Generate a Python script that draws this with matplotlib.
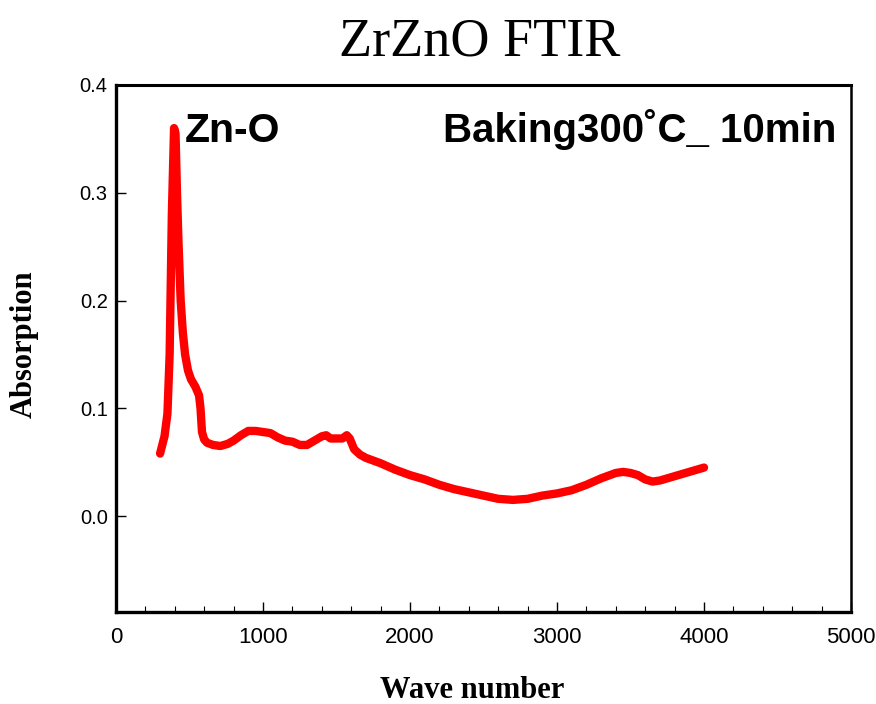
import matplotlib.pyplot as plt
from matplotlib.ticker import MultipleLocator

# FTIR spectrum
wave_number = [300, 330, 350, 365, 380, 395, 405, 415, 425, 440, 455, 470, 490, 510,
               540, 565, 575, 585, 600, 620, 660, 710, 760, 800, 850, 900, 950, 1000,
               1050, 1100, 1150, 1200, 1250, 1300, 1350, 1400, 1430, 1460, 1500, 1540,
               1570, 1590, 1620, 1660, 1700, 1800, 1900, 2000, 2100, 2200, 2300, 2400,
               2500, 2600, 2700, 2800, 2900, 3000, 3100, 3200, 3300, 3400, 3450, 3500,
               3550, 3600, 3650, 3700, 3800, 3900, 4000]
absorption = [0.058, 0.074, 0.095, 0.150, 0.280, 0.360, 0.355, 0.300, 0.255, 0.200,
              0.170, 0.150, 0.135, 0.127, 0.120, 0.112, 0.100, 0.078, 0.071, 0.068,
              0.066, 0.065, 0.067, 0.070, 0.075, 0.079, 0.079, 0.078, 0.077, 0.073,
              0.070, 0.069, 0.066, 0.066, 0.070, 0.074, 0.075, 0.072, 0.072, 0.072,
              0.075, 0.072, 0.062, 0.057, 0.054, 0.049, 0.043, 0.038, 0.034, 0.029,
              0.025, 0.022, 0.019, 0.016, 0.015, 0.016, 0.019, 0.021, 0.024, 0.029,
              0.035, 0.040, 0.041, 0.040, 0.038, 0.034, 0.032, 0.033, 0.037, 0.041,
              0.045]

x_ticks = [0, 1000, 2000, 3000, 4000, 5000]
y_ticks = [0.0, 0.1, 0.2, 0.3, 0.4]

fig = plt.figure(figsize=(8.76, 7.04), dpi=100)
ax = fig.add_axes([0.1324, 0.1307, 0.8391, 0.7486])

ax.plot(wave_number, absorption, color='red', linewidth=6,
        solid_capstyle='round', solid_joinstyle='round')

ax.set_xlim(0, 5000)
ax.set_ylim(-0.089, 0.4)
ax.set_xticks(x_ticks)
ax.set_yticks(y_ticks)
ax.set_yticklabels([f'{v:.1f}' for v in y_ticks], family='Liberation Sans', fontsize=14.5)
ax.set_xticklabels([str(v) for v in x_ticks],
                   family=['Liberation Sans Narrow', 'DejaVu Sans Condensed', 'Liberation Sans'],
                   fontsize=16)
ax.xaxis.set_minor_locator(MultipleLocator(200))
ax.tick_params(axis='x', which='major', direction='in', length=7, width=1, pad=11)
ax.tick_params(axis='x', which='minor', direction='in', length=4, width=0.8)
ax.tick_params(axis='y', which='major', direction='in', length=7, width=1, pad=6)

ax.spines['left'].set_linewidth(2.4)
ax.spines['bottom'].set_linewidth(2.4)
ax.spines['top'].set_linewidth(2.2)
ax.spines['right'].set_linewidth(1.8)

ax.text(465, 0.347, 'Zn-O', family='Liberation Sans', fontweight='bold',
        fontsize=29.5, ha='left', va='baseline')
ax.text(4903, 0.347, 'Baking300˚C_ 10min', family='Liberation Sans', fontweight='bold',
        fontsize=29, ha='right', va='baseline')

# title and axis labels, positioned like the original
fig.text(0.548, 1 - 55 / 704, 'ZrZnO FTIR', family='Liberation Serif',
         fontsize=39, ha='center', va='baseline')
fig.text(0.539, 1 - 698 / 704, 'Wave number', family='Liberation Serif',
         fontweight='bold', fontsize=22, ha='center', va='baseline')
fig.text(24 / 876, 1 - 344 / 704, 'Absorption', family='Liberation Serif',
         fontweight='bold', fontsize=22, ha='center', va='center', rotation=90)

plt.savefig('out.png', dpi=100)
